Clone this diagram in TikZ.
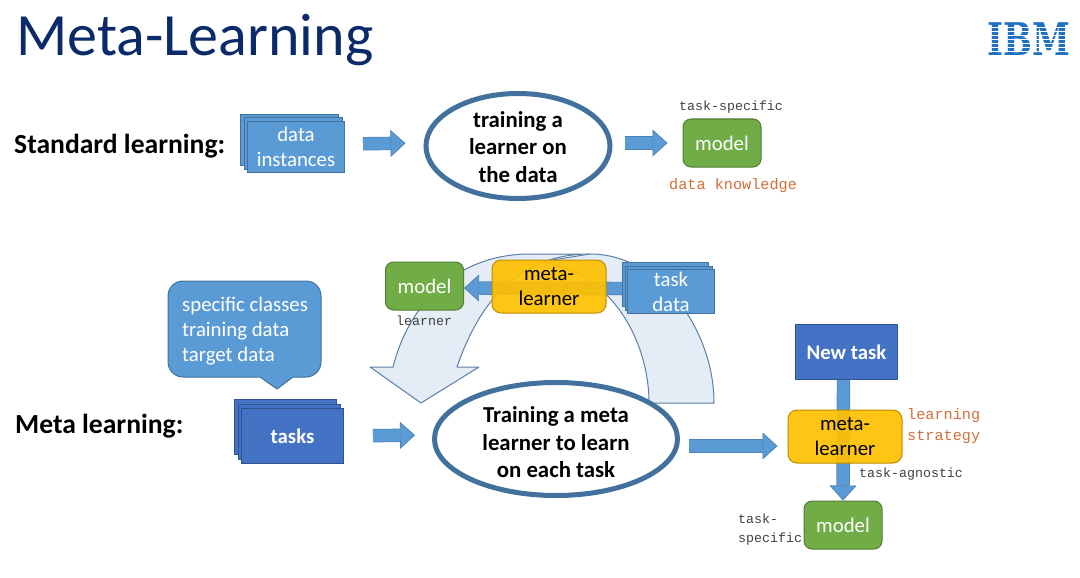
\documentclass[tikz,border=0pt]{standalone}
\usepackage{fontspec}
\setmainfont{Carlito}
\newfontfamily\labelmono{Liberation Mono}
\newfontfamily\logoserif{DejaVu Serif}
\usetikzlibrary{arrows.meta, shapes.geometric, backgrounds}
\definecolor{titleblue}{HTML}{0B2A6A}
\definecolor{sheetblue}{HTML}{5B9BD5}
\definecolor{sheetedge}{HTML}{41719C}
\colorlet{arrowedge}{sheetedge!60!sheetblue}
\definecolor{taskblue}{HTML}{4472C4}
\definecolor{taskedge}{HTML}{2F528F}
\definecolor{modelgreen}{HTML}{70AD47}
\definecolor{modeledge}{HTML}{507E32}
\definecolor{metagold}{HTML}{FFC000}
\definecolor{metaedge}{HTML}{BC8C00}
\definecolor{noteorange}{HTML}{D0703A}
\definecolor{swoopfill}{HTML}{E4ECF5}
\definecolor{swoopedge}{HTML}{5A7FA8}
\definecolor{logoblue}{HTML}{1F70C1}
\begin{document}
\begin{tikzpicture}[
  x=1pt, y=-1pt,
  sheet/.style={draw=sheetedge, fill=sheetblue, line width=1pt, anchor=north west, inner sep=0pt,
                text=white, align=center, font=\fontsize{20.8}{25}\selectfont},
  tasksheet/.style={sheet, draw=taskedge, fill=taskblue, font=\fontsize{20.8}{25}\selectfont\bfseries},
  ring/.style={ellipse, draw=sheetedge, line width=5pt, fill=white, inner sep=0pt},
  ringtext/.style={inner sep=0pt, align=center, font=\fontsize{22.8}{27.5}\selectfont\bfseries},
  modelbox/.style={draw=modeledge, fill=modelgreen, line width=1pt, rounded corners=8pt,
                   minimum width=78pt, minimum height=48pt, inner sep=0pt, text=white,
                   font=\fontsize{20.8}{25}\selectfont},
  metabox/.style={draw=metaedge, fill=metagold, fill opacity=.92, text opacity=1, line width=1pt,
                  rounded corners=9pt, minimum width=114pt, minimum height=53pt, inner sep=0pt,
                  align=center, font=\fontsize{20.8}{25}\selectfont},
  heading/.style={anchor=west, inner sep=0pt, font=\fontsize{27.6}{30}\selectfont\bfseries},
  tinylabel/.style={anchor=west, inner sep=0pt, align=left, text=black!75,
                    font=\fontsize{13.3}{19}\selectfont\labelmono},
  orangelabel/.style={anchor=west, inner sep=0pt, align=left, text=noteorange,
                      font=\fontsize{15.2}{21}\selectfont\labelmono},
  blockarrow/.style={draw=arrowedge, double=sheetblue, double distance=12pt, line width=.7pt,
                     -{Triangle[length=15pt, width=27pt, fill=sheetblue, line width=.7pt]}},
  swoop/.style={draw=swoopedge, fill=swoopfill, line width=1pt, line join=round},
]
\useasboundingbox (0,0) rectangle (1080,578);

% Title and logo
\node[anchor=west, inner sep=0pt, text=titleblue, font=\fontsize{60}{66}\selectfont] (title) at (16,40) {Meta-Learning};
\node[inner sep=0pt, text=logoblue, xscale=.76, font=\fontsize{45}{50}\selectfont\logoserif\bfseries] (logo) at (1029,39.5) {IBM};
\foreach \y in {27,31,35,39,43,47,51} {
  \fill[white] (985,\y) rectangle (1073,\y+1.4);
}

% Standard learning
\node[heading] (stdhead) at (14,146) {Standard learning:};
\node[sheet, minimum width=98pt, minimum height=51pt] (databack) at (240,114) {};
\node[sheet, minimum width=98pt, minimum height=51pt] (datamid) at (243.5,117.5) {};
\node[sheet, minimum width=97pt, minimum height=51pt] (datafront) at (247,121) {data\\instances};
\node[ring, minimum width=184pt, minimum height=105pt] (trainstd) at (518,146) {};
\node[ringtext] (trainstdtext) at (518,147) {training a\\learner on\\the data};
\node[modelbox] (modelstd) at (722,143) {model};
\node[tinylabel] (specstd) at (679,107) {task-specific};
\node[orangelabel] (knowstd) at (669,185.5) {data knowledge};

\draw[blockarrow, shorten <=18pt, shorten >=18pt] ([yshift=3pt]datafront.east) -- ([yshift=3pt]trainstd.west);
\draw[blockarrow, shorten <=12pt, shorten >=15pt] ([yshift=3pt]trainstd.east) -- (modelstd.west);

% Meta learning
\node[heading] (metahead) at (15,426) {Meta learning:};
\draw[draw=sheetedge, fill=sheetblue, line width=1pt] (244,281) [rounded corners=15pt] -- (321,281) -- (321,377) [sharp corners] -- (293,377) -- (277,389) -- (260,377) [rounded corners=15pt] -- (168,377) -- (168,281) -- cycle;
\node[anchor=west, inner sep=0pt, align=left, text=white, font=\fontsize{20.8}{25}\selectfont] (classes) at (182,331) {specific classes\\training data\\target data};
\node[tasksheet, minimum width=102pt, minimum height=55pt] (tasksback) at (234,399) {};
\node[tasksheet, minimum width=102pt, minimum height=55pt] (tasksmid) at (237.5,403.5) {};
\node[tasksheet, minimum width=102pt, minimum height=55pt] (tasksfront) at (241,408) {tasks};
\node[ring, minimum width=243pt, minimum height=113pt] (trainmeta) at (556,439) {};
\node[ringtext] (trainmetatext) at (556,442.5) {Training a meta\\learner to learn\\on each task};

% Inner loop
\node[modelbox] (modelloop) at (424.5,286) {model};
\node[tinylabel] (learnerlab) at (396,321) {learner};
\node[metabox] (metaloop) at (549,286.5) {meta-\\learner};
\node[sheet, minimum width=86pt, minimum height=44pt] (taskdback) at (622,262) {};
\node[sheet, minimum width=87pt, minimum height=44pt] (taskdmid) at (624.5,265.5) {};
\node[sheet, minimum width=87pt, minimum height=44pt] (taskdfront) at (627,269) {task\\data};

% New task
\node[tasksheet, minimum width=102pt, minimum height=55pt] (newtask) at (795,324) {New task};
\node[metabox] (metanew) at (845,436.5) {meta-\\learner};
\node[modelbox] (modelnew) at (843,525) {model};
\node[orangelabel] (stratlab) at (907,426) {learning\\strategy};
\node[tinylabel] (agnostlab) at (859,474) {task-agnostic};
\node[tinylabel] (speclab) at (738,529.5) {task-\\specific};

\draw[blockarrow, shorten <=29pt, shorten >=17pt] (tasksfront.east) -- ([yshift=4pt]trainmeta.west);
\draw[blockarrow, shorten <=9pt, shorten >=10pt] ([yshift=-7pt]trainmeta.east) -- ([yshift=-9.5pt]metanew.west);

\begin{scope}[on background layer]
  % Big curved arrow
  \draw[swoop] (649,403) -- (714,403) .. controls (714,330) and (660,254) .. (590,254)
    -- (540,262) .. controls (610,270) and (649,340) .. (649,403) -- cycle;
  \draw[swoop] (590,254) -- (530,254) .. controls (460,254) and (410,300) .. (393,367)
    -- (370,367) -- (421,403) -- (479,367) -- (457,367)
    .. controls (480,300) and (520,254) .. (590,254) -- cycle;
  \draw[blockarrow] ([yshift=3pt]taskdfront.west) -- ([yshift=-2pt]modelloop.east);
  \draw[blockarrow] ([xshift=-3pt]newtask.south) -- (modelnew.north);
\end{scope}
\end{tikzpicture}
\end{document}
